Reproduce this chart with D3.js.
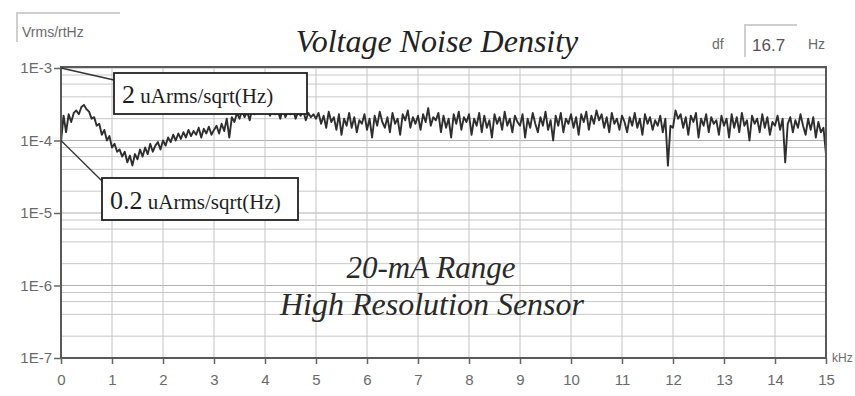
<!DOCTYPE html>
<html>
<head>
<meta charset="utf-8">
<script src="https://cdn.jsdelivr.net/npm/d3@7"></script>
<style>
  body { margin: 0; background: #fff; }
  svg { display: block; }
</style>
</head>
<body>
<svg id="chart" width="855" height="396"></svg>
<script>
// frequency axis, kHz
const freqStep = 0.05;
const xTicks = [0, 1, 2, 3, 4, 5, 6, 7, 8, 9, 10, 11, 12, 13, 14, 15];
const yTicks = [1e-3, 1e-4, 1e-5, 1e-6, 1e-7];
const yTickLabels = ['1E-3', '1E-4', '1E-5', '1E-6', '1E-7'];
const minorSteps = [2, 4, 6, 8];

// noise density, uVrms/sqrt(Hz), one value per 50 Hz from 0 to 15 kHz
const noiseLow = [
  95, 220, 130, 230, 180, 240, 260, 230, 290, 310, 270, 250, 200, 210, 160, 170, 120, 140, 100, 115, 80,
  90, 70, 75, 60, 70, 50, 62, 45, 65, 55,
  75, 60, 80, 65, 90, 70, 85, 95, 75, 100,
  85, 110, 95, 120, 100, 125, 105, 130, 110, 140,
  115, 135, 120, 150, 110, 145, 125, 155, 120, 140,
  160, 125, 170, 135, 200, 110, 210, 180, 240, 200,
  260, 210, 250, 190, 280, 230, 300, 250, 320, 240,
  270, 220, 290, 230, 260, 200, 280, 210, 250, 230, 270, 200, 250, 220, 260, 190, 240, 210, 230, 200
];
const noiseHigh = [
  240, 170, 220, 150, 250, 180, 210, 140, 230, 120, 200, 160, 240, 150, 210, 130, 190, 170, 230, 140,
  200, 110, 220, 160, 250, 180, 150, 210, 130, 240, 170, 200, 120, 230, 190, 260, 150, 210, 170, 220,
  140, 230, 180, 280, 160, 210, 190, 240, 130, 220, 150, 200, 110, 230, 170, 250, 140, 210, 180, 230,
  120, 200, 160, 240, 130, 220, 150, 190, 110, 230, 170, 210, 140, 250, 160, 200, 130, 220, 180, 160,
  230, 110, 200, 150, 240, 170, 130, 210, 160, 250, 140, 190, 100, 220, 160, 240, 130, 200, 170, 230,
  150, 210, 120, 230, 180, 250, 140, 220, 170, 260, 190, 230, 150, 210, 130, 240, 170, 200, 140, 220,
  180, 130, 210, 160, 240, 150, 200, 120, 230, 170, 210, 140, 190, 160, 220, 130, 200, 45, 160, 150,
  260, 200, 230, 150, 210, 120, 220, 180, 240, 110, 200, 160, 230, 130, 210, 170, 190, 120, 220, 160,
  200, 110, 230, 150, 210, 130, 240, 160, 190, 100, 220, 170, 200, 130, 230, 150, 210, 120, 180, 160,
  220, 140, 200, 50, 170, 210, 130, 190, 150, 230, 160, 120, 200, 140, 210, 110, 180, 130, 150, 65
];

const noise = noiseLow.concat(noiseHigh).map((v, i) => ({f: i * freqStep, v: v * 1e-6}));

const svg = d3.select('#chart');
const width = +svg.attr('width');
const height = +svg.attr('height');
const margin = {top: 68, right: 29, bottom: 38, left: 61};

const scaleX = d3.scaleLinear().domain([0, 15]).range([margin.left, width - margin.right]);
const scaleY = d3.scaleLog().domain([1e-7, 1e-3]).range([height - margin.bottom, margin.top]);

const tickFont = 'Liberation Sans, Arial, sans-serif';
const serif = 'Liberation Serif, Times New Roman, serif';

// grid: decades plus 2,4,6,8 inside each decade
const hLines = [];
yTicks.forEach(d => { if (d < 1e-3) minorSteps.forEach(m => hLines.push(d * m)); });

const grid = svg.append('g');
grid.selectAll('.hminor').data(hLines).enter().append('line')
  .attr('x1', margin.left).attr('x2', width - margin.right)
  .attr('y1', d => scaleY(d)).attr('y2', d => scaleY(d))
  .attr('stroke', '#c8c8c8').attr('stroke-width', 1);
grid.selectAll('.hmajor').data(yTicks).enter().append('line')
  .attr('x1', margin.left).attr('x2', width - margin.right)
  .attr('y1', d => scaleY(d)).attr('y2', d => scaleY(d))
  .attr('stroke', '#b0b0b0').attr('stroke-width', 1);
grid.selectAll('.vline').data(xTicks).enter().append('line')
  .attr('x1', d => scaleX(d)).attr('x2', d => scaleX(d))
  .attr('y1', margin.top).attr('y2', height - margin.bottom)
  .attr('stroke', '#c4c4c4').attr('stroke-width', 1);

// axes
const xAxis = svg.append('g')
  .attr('transform', 'translate(0,' + (height - margin.bottom) + ')')
  .call(d3.axisBottom(scaleX).tickValues(xTicks).tickFormat(d3.format('d')).tickSize(6).tickPadding(10));
const yAxis = svg.append('g')
  .attr('transform', 'translate(' + margin.left + ',0)')
  .call(d3.axisLeft(scaleY).tickValues(yTicks).tickFormat((d, i) => yTickLabels[i]).tickSize(7).tickPadding(2));

[xAxis, yAxis].forEach(a => {
  a.select('.domain').remove();
  a.selectAll('line').attr('stroke', '#666').attr('stroke-width', 1.5);
  a.selectAll('text').attr('fill', '#6a6a6a').style('font-family', tickFont).style('font-size', '15px');
});

// noise line
svg.append('path')
  .datum(noise)
  .attr('fill', 'none')
  .attr('stroke', '#2e2e2e')
  .attr('stroke-width', 1.9)
  .attr('stroke-linejoin', 'round')
  .attr('d', d3.line().x(d => scaleX(d.f)).y(d => scaleY(d.v)));

// plot frame
svg.append('rect')
  .attr('x', margin.left).attr('y', margin.top - 1)
  .attr('width', width - margin.left - margin.right).attr('height', height - margin.top - margin.bottom + 1)
  .attr('fill', 'none').attr('stroke', '#5a5a5a').attr('stroke-width', 2);

// header controls
svg.append('path').attr('d', 'M17,42 L17,13 L120,13').attr('fill', 'none').attr('stroke', '#cfcfcf').attr('stroke-width', 2);
svg.append('text').attr('x', 22).attr('y', 37).text('Vrms/rtHz')
  .attr('fill', '#6a6a6a').style('font-family', tickFont).style('font-size', '14px');

svg.append('text').attr('x', 712).attr('y', 49).text('df')
  .attr('fill', '#6a6a6a').style('font-family', tickFont).style('font-size', '14px');
svg.append('path').attr('d', 'M745,57 L745,25 L797,25').attr('fill', 'none').attr('stroke', '#cfcfcf').attr('stroke-width', 2);
svg.append('text').attr('x', 752).attr('y', 51).text('16.7')
  .attr('fill', '#555').style('font-family', tickFont).style('font-size', '17px');
svg.append('text').attr('x', 808).attr('y', 49).text('Hz')
  .attr('fill', '#6a6a6a').style('font-family', tickFont).style('font-size', '14px');

svg.append('text').attr('x', 832).attr('y', 362).text('kHz')
  .attr('fill', '#6a6a6a').style('font-family', tickFont).style('font-size', '12px');

// titles
svg.append('text').attr('x', 437).attr('y', 52).attr('text-anchor', 'middle')
  .text('Voltage Noise Density')
  .attr('fill', '#222').style('font-family', serif).style('font-style', 'italic').style('font-size', '32px');
svg.append('text').attr('x', 431).attr('y', 278).attr('text-anchor', 'middle')
  .text('20-mA  Range')
  .attr('fill', '#2a2a2a').style('font-family', serif).style('font-style', 'italic').style('font-size', '31px');
svg.append('text').attr('x', 432).attr('y', 315).attr('text-anchor', 'middle')
  .text('High Resolution Sensor')
  .attr('fill', '#2a2a2a').style('font-family', serif).style('font-style', 'italic').style('font-size', '32px');

// annotation callouts
function callout(fx, fy, bx, by, bw, bh, lead, rest, leadSize, restSize) {
  svg.append('line')
    .attr('x1', scaleX(fx)).attr('y1', scaleY(fy))
    .attr('x2', bx).attr('y2', by + (fy === 1e-3 ? 7 : 3))
    .attr('stroke', '#333').attr('stroke-width', 1.3);
  svg.append('rect').attr('x', bx).attr('y', by).attr('width', bw).attr('height', bh)
    .attr('fill', '#fff').attr('stroke', '#222').attr('stroke-width', 1.8);
  const t = svg.append('text').attr('x', bx + 8).attr('y', by + bh - 11)
    .attr('fill', '#1e1e1e').style('font-family', serif);
  t.append('tspan').text(lead).style('font-size', leadSize + 'px');
  t.append('tspan').text(' ' + rest).style('font-size', restSize + 'px');
}
callout(0, 1e-3, 114, 73, 193, 41, '2', 'uArms/sqrt(Hz)', 26, 21);
callout(0, 1e-4, 102, 178, 196, 42, '0.2', 'uArms/sqrt(Hz)', 26, 21);
</script>
</body>
</html>
